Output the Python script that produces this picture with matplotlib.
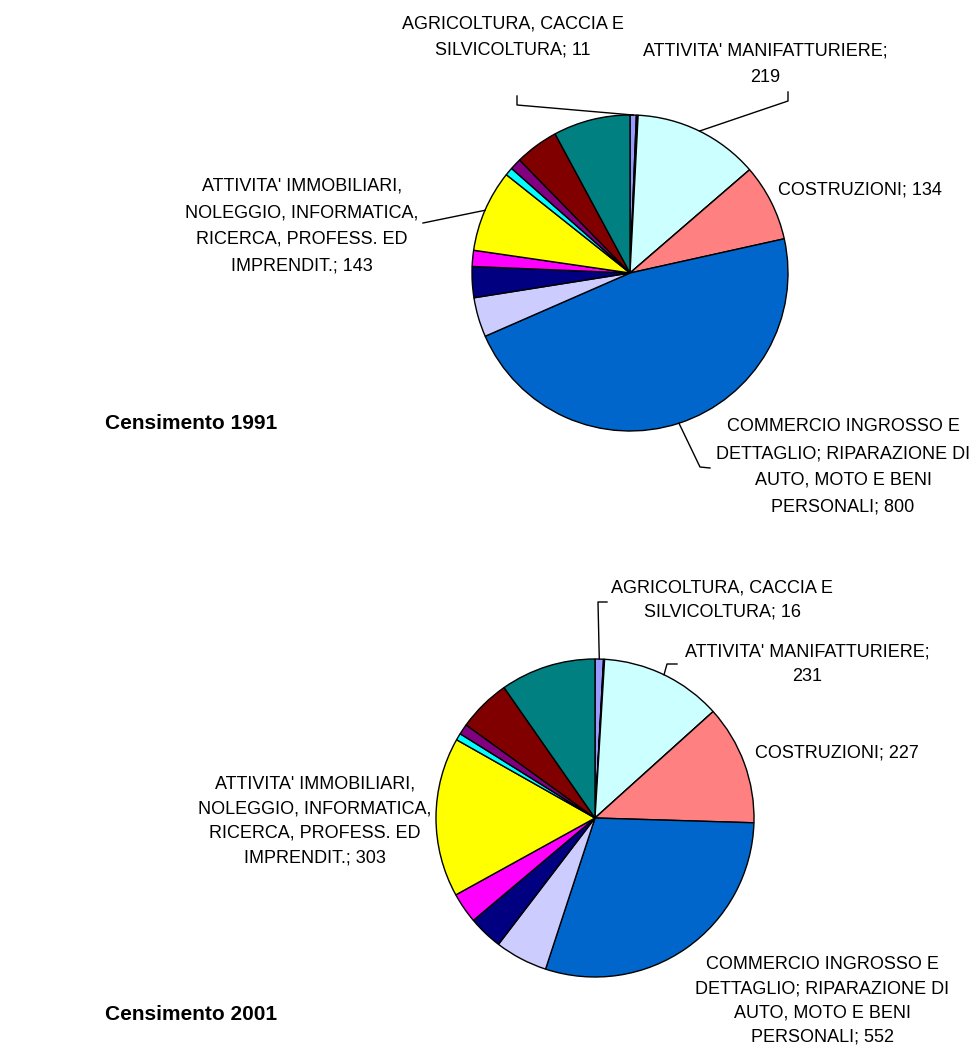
import matplotlib.pyplot as plt
from matplotlib.lines import Line2D
import numpy as np

W, H = 972, 1047

# ATECO sections A..O, Excel default fill colours
sections = ["AGRICOLTURA, CACCIA E\nSILVICOLTURA", "PESCA", "ESTRAZIONE MINERALI",
            "ATTIVITA' MANIFATTURIERE", "ENERGIA, GAS E ACQUA", "COSTRUZIONI",
            "COMMERCIO INGROSSO E\nDETTAGLIO; RIPARAZIONE DI\nAUTO, MOTO E BENI\nPERSONALI",
            "ALBERGHI E RISTORANTI", "TRASPORTI E COMUNICAZIONI", "INTERMEDIAZIONE FINANZIARIA",
            "ATTIVITA' IMMOBILIARI,\nNOLEGGIO, INFORMATICA,\nRICERCA, PROFESS. ED\nIMPRENDIT.",
            "PUBBLICA AMMINISTRAZIONE", "ISTRUZIONE", "SANITA'", "ALTRI SERVIZI"]
colors = ["#9999FF", "#993366", "#FFFFCC", "#CCFFFF", "#660066", "#FF8080", "#0066CC",
          "#CCCCFF", "#000080", "#FF00FF", "#FFFF00", "#00FFFF", "#800080", "#800000", "#008080"]
val_1991 = [11, 2, 1, 219, 0, 134, 800, 69, 54, 28, 143, 14, 20, 76, 134]
val_2001 = [16, 1, 1, 231, 0, 227, 552, 100, 65, 58, 303, 13, 20, 100, 181]

fig = plt.figure(figsize=(W / 100, H / 100), dpi=100)
plt.rcParams['font.family'] = ['Liberation Sans', 'DejaVu Sans']


def fx(x):
    return x / W


def fy(y):
    return 1 - y / H


def make_pie(cx, cy, r, values):
    ax = fig.add_axes([fx(cx - r), fy(cy + r), 2 * r / W, 2 * r / H])
    wedges, _ = ax.pie(values, colors=colors, startangle=90, counterclock=False,
                       wedgeprops=dict(edgecolor='black', linewidth=1))
    ax.set_xlim(-1, 1)
    ax.set_ylim(-1, 1)
    ax.set_aspect('equal')
    ax.axis('off')
    return ax, wedges


def edge_point(ax, w, cx, cy, r):
    t = np.deg2rad((w.theta1 + w.theta2) / 2)
    return cx + r * np.cos(t), cy - r * np.sin(t)


def leader(pts):
    xs = [fx(p[0]) for p in pts]
    ys = [fy(p[1]) for p in pts]
    fig.add_artist(Line2D(xs, ys, color='black', linewidth=1, transform=fig.transFigure))


def label(i, values, x, y, ha='center', ls=1.75):
    txt = sections[i] + "; " + str(values[i])
    if i == 3:
        txt = sections[i] + ";\n" + str(values[i])
    fig.text(fx(x), fy(y), txt, ha=ha, va='center', fontsize=13, linespacing=ls,
             multialignment='center')


# ---- Censimento 1991 ----
c1 = (630, 273, 158)
ax1, w1 = make_pie(*c1, val_1991)
label(0, val_1991, 513, 37)
leader([(517, 96), (517, 105), edge_point(ax1, w1[0], *c1)])
label(3, val_1991, 765, 64)
leader([(788, 92), (788, 101), edge_point(ax1, w1[3], *c1)])
label(5, val_1991, 778, 190, ha='left')
label(10, val_1991, 302, 226)
leader([(423, 223), edge_point(ax1, w1[10], *c1)])
label(6, val_1991, 843, 467)
leader([(710, 468), (700, 467), edge_point(ax1, w1[6], *c1)])
fig.text(fx(105), fy(423), "Censimento 1991", fontsize=15, fontweight='bold', va='center')

# ---- Censimento 2001 ----
c2 = (595, 818, 159)
ax2, w2 = make_pie(*c2, val_2001)
label(0, val_2001, 722, 600, ls=1.55)
leader([(607, 602), (598, 602), edge_point(ax2, w2[0], *c2)])
label(3, val_2001, 807, 664, ls=1.6)
leader([(677, 664), (667, 664), edge_point(ax2, w2[3], *c2)])
label(5, val_2001, 755, 753, ha='left')
label(10, val_2001, 315, 821, ls=1.6)
label(6, val_2001, 822, 1001, ls=1.55)
fig.text(fx(105), fy(1015), "Censimento 2001", fontsize=15, fontweight='bold', va='center')

fig.savefig("out.png", dpi=100)
